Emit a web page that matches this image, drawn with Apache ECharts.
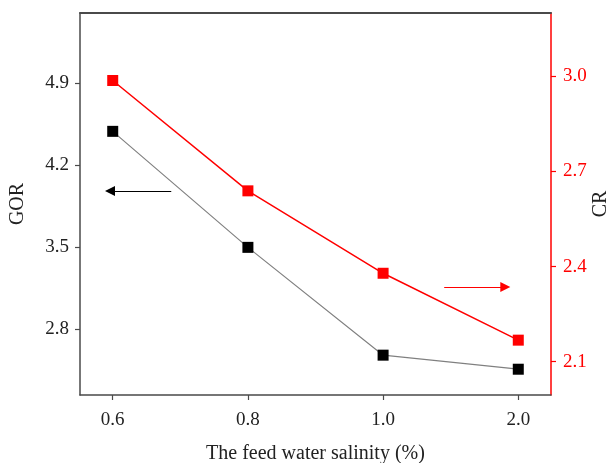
<!DOCTYPE html>
<html>
<head>
<meta charset="utf-8">
<script src="https://cdn.jsdelivr.net/npm/echarts@6/dist/echarts.min.js"></script>
<style>
  html, body { margin: 0; padding: 0; background: #fff; }
  #chart { width: 611px; height: 463px; }
</style>
</head>
<body>
<div id="chart"></div>
<script>
// Feed water salinity levels (%) shown as evenly spaced categories
const salinity = ['0.6', '0.8', '1.0', '2.0'];
// Gained output ratio (left axis)
const gor = [4.49, 3.50, 2.58, 2.46];
// Concentration ratio (right axis)
const cr = [2.987, 2.639, 2.379, 2.168];
// Tick values for each axis
const gorTicks = [2.8, 3.5, 4.2, 4.9];
const crTicks = [2.1, 2.4, 2.7, 3.0];
const xTicks = [0, 1, 2, 3];

const serif = 'Liberation Serif';
const axisGrey = '#4a4a4a';
const red = '#ff0000';

const chart = echarts.init(document.getElementById('chart'));

chart.setOption({
  animation: false,
  backgroundColor: '#fff',
  grid: { left: 80, right: 60, top: 13, bottom: 68, containLabel: false, outerBoundsMode: 'none' },
  xAxis: [{
    type: 'value',
    min: -0.242,
    max: 3.242,
    name: 'The feed water salinity (%)',
    nameLocation: 'middle',
    nameGap: 49,
    nameTextStyle: { fontFamily: serif, fontSize: 20, color: '#222' },
    axisLine: { show: true, onZero: false, lineStyle: { color: axisGrey, width: 1.5 } },
    axisTick: { show: true, inside: false, length: 5, customValues: xTicks, lineStyle: { color: axisGrey, width: 1.2 } },
    axisLabel: {
      customValues: xTicks,
      margin: 16,
      fontFamily: serif, fontSize: 19, color: '#222',
      formatter: v => salinity[Math.round(v)]
    },
    splitLine: { show: false }
  }, {
    type: 'value',
    position: 'top',
    min: -0.242,
    max: 3.242,
    axisLine: { show: true, onZero: false, lineStyle: { color: axisGrey, width: 2 } },
    axisTick: { show: false },
    axisLabel: { show: false },
    splitLine: { show: false }
  }],
  yAxis: [{
    type: 'value',
    position: 'left',
    min: 2.24,
    max: 5.5,
    name: 'GOR',
    nameLocation: 'middle',
    nameGap: 52,
    nameRotate: 90,
    nameTextStyle: { fontFamily: serif, fontSize: 20, color: '#222' },
    axisLine: { show: true, onZero: false, lineStyle: { color: axisGrey, width: 1.5 } },
    axisTick: { show: true, inside: false, length: 5, customValues: gorTicks, lineStyle: { color: axisGrey, width: 1.2 } },
    axisLabel: {
      customValues: gorTicks,
      margin: 11,
      fontFamily: serif, fontSize: 19, color: '#222',
      formatter: v => v.toFixed(1)
    },
    splitLine: { show: false }
  }, {
    type: 'value',
    position: 'right',
    min: 1.995,
    max: 3.2,
    name: 'CR',
    nameLocation: 'middle',
    nameGap: 40,
    nameMoveOverlap: false,
    nameRotate: 90,
    nameTextStyle: { fontFamily: serif, fontSize: 20, color: '#222' },
    axisLine: { show: true, onZero: false, lineStyle: { color: red, width: 1.5 } },
    axisTick: { show: true, inside: false, length: 5, customValues: crTicks, lineStyle: { color: red, width: 1.2 } },
    axisLabel: {
      customValues: crTicks,
      margin: 12,
      fontFamily: serif, fontSize: 19, color: red,
      formatter: v => v.toFixed(1)
    },
    splitLine: { show: false }
  }],
  series: [{
    name: 'GOR',
    type: 'line',
    xAxisIndex: 0,
    yAxisIndex: 0,
    data: gor.map((v, i) => [i, v]),
    symbol: 'rect',
    symbolSize: 11,
    itemStyle: { color: '#000' },
    lineStyle: { color: '#808080', width: 1.2 },
    emphasis: { disabled: true },
    z: 3,
    markLine: {
      silent: true,
      symbol: ['none', 'triangle'],
      symbolSize: 10,
      label: { show: false },
      lineStyle: { color: '#000', width: 1, type: 'solid' },
      emphasis: { disabled: true },
      data: [[{ coord: [0.433, 3.981] }, { coord: [-0.02, 3.981] }]]
    }
  }, {
    name: 'CR',
    type: 'line',
    xAxisIndex: 0,
    yAxisIndex: 1,
    data: cr.map((v, i) => [i, v]),
    symbol: 'rect',
    symbolSize: 11,
    itemStyle: { color: red },
    lineStyle: { color: red, width: 1.5 },
    emphasis: { disabled: true },
    z: 3,
    markLine: {
      silent: true,
      symbol: ['none', 'triangle'],
      symbolSize: 10,
      label: { show: false },
      lineStyle: { color: red, width: 1, type: 'solid' },
      emphasis: { disabled: true },
      data: [[{ coord: [2.452, 2.336] }, { coord: [2.904, 2.336] }]]
    }
  }]
});
</script>
</body>
</html>
